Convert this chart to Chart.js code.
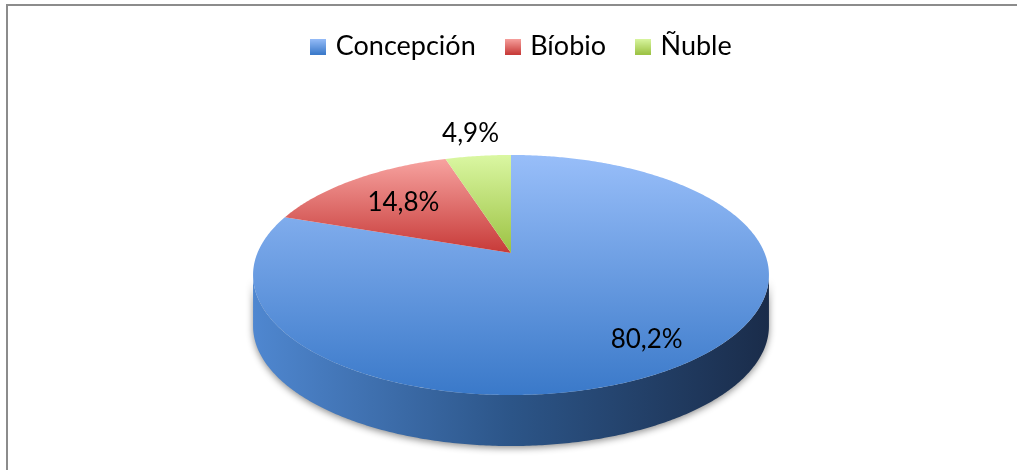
<!DOCTYPE html>
<html>
<head>
<meta charset="utf-8">
<script src="https://cdn.jsdelivr.net/npm/chart.js@4/dist/chart.umd.min.js"></script>
<style>
  html, body { margin: 0; padding: 0; background: #fff; }
  #wrap { position: relative; width: 1018px; height: 470px; }
  canvas { display: block; }
</style>
</head>
<body>
<div id="wrap"><canvas id="chart" width="1018" height="470"></canvas></div>
<script>
// Regional shares (%)
const categories = ['Concepción', 'Bíobio', 'Ñuble'];
const shares = [80.2, 14.8, 4.9];

// Slice colours: top face gradient (light -> dark) and side wall gradient (left -> right)
const topLight = ['#98bef9', '#f7a3a0', '#daf7a2'];
const topDark  = ['#3a79c9', '#c73a38', '#9cc243'];
const sideLeft = ['#4f87d0', '#b53331', '#8db23a'];
const sideMid  = ['#2c5588', '#8a2624', '#6c8a2a'];
const sideRight= ['#1a2c4a', '#5a1716', '#45591a'];
const legendColor = ['#6f9ee6', '#e46663', '#bddd76'];

// Radial position of each value label (fraction of the radius)
const labelRadius = [0.81, 0.66, 1.28];

// Perspective of the tilted pie
const STRETCH = 2.186;   // horizontal / vertical radius of the top face
const TILT = 0.1833;     // perspective foreshortening of the far half
const DEPTH = 51;        // thickness of the pie in pixels
const LEGEND_SHIFT = 12; // legend sits slightly right of the pie centre

const fmt = v => v.toFixed(1).replace('.', ',') + '%';

function project(cx, cy, r, theta, frac, drop) {
  const u = Math.cos(theta) * frac, v = Math.sin(theta) * frac;
  const w = 1 - TILT * v;
  return [cx + STRETCH * r * u / w, cy + r * v / w + (drop || 0)];
}

function legendSwatch(i) {
  const c = document.createElement('canvas');
  c.width = 16; c.height = 16;
  const g = c.getContext('2d');
  const grad = g.createLinearGradient(0, 0, 0, 16);
  grad.addColorStop(0, topLight[i]);
  grad.addColorStop(1, topDark[i]);
  g.fillStyle = grad;
  g.fillRect(0, 0, 16, 16);
  return c;
}
const swatches = categories.map((_, i) => legendSwatch(i));

const pie3d = {
  id: 'pie3d',
  afterLayout(chart) {
    const lg = chart.legend;
    if (lg) { lg.left += LEGEND_SHIFT; lg.right += LEGEND_SHIFT; }
  },
  beforeDatasetsDraw(chart) {
    const ctx = chart.ctx;
    const meta = chart.getDatasetMeta(0);
    const arcs = meta.data;
    if (!arcs.length) return false;
    const cx = arcs[0].x, cy = arcs[0].y, r = arcs[0].outerRadius;
    const thR = Math.asin(TILT), thL = Math.PI - Math.asin(TILT);
    const STEP = 0.01;

    const samples = (a, b, frac, drop) => {
      const pts = [];
      const n = Math.max(2, Math.ceil((b - a) / STEP));
      for (let k = 0; k <= n; k++) pts.push(project(cx, cy, r, a + (b - a) * k / n, frac, drop));
      return pts;
    };

    // side walls (front half only)
    ctx.save();
    arcs.forEach((arc, i) => {
      const a = Math.max(arc.startAngle, thR), b = Math.min(arc.endAngle, thL);
      if (b <= a) return;
      const top = samples(a, b, 1, 0);
      const bot = samples(a, b, 1, DEPTH).reverse();
      const xs = top.map(p => p[0]);
      const x0 = Math.min(...xs), x1 = Math.max(...xs);
      const grad = ctx.createLinearGradient(x0, 0, x1, 0);
      grad.addColorStop(0, sideLeft[i]);
      grad.addColorStop(0.5, sideMid[i]);
      grad.addColorStop(1, sideRight[i]);
      ctx.beginPath();
      top.concat(bot).forEach((p, k) => k ? ctx.lineTo(p[0], p[1]) : ctx.moveTo(p[0], p[1]));
      ctx.closePath();
      ctx.shadowColor = 'rgba(0,0,0,0.45)';
      ctx.shadowBlur = 7;
      ctx.shadowOffsetX = 0;
      ctx.shadowOffsetY = 2;
      ctx.fillStyle = grad;
      ctx.fill();
    });
    ctx.restore();

    // top faces
    arcs.forEach((arc, i) => {
      const pts = [[cx, cy]].concat(samples(arc.startAngle, arc.endAngle, 1, 0));
      const ys = pts.map(p => p[1]);
      const y0 = Math.min(...ys), y1 = Math.max(...ys);
      const grad = ctx.createLinearGradient(0, y0, 0, y1);
      grad.addColorStop(0, topLight[i]);
      grad.addColorStop(1, topDark[i]);
      ctx.beginPath();
      pts.forEach((p, k) => k ? ctx.lineTo(p[0], p[1]) : ctx.moveTo(p[0], p[1]));
      ctx.closePath();
      ctx.fillStyle = grad;
      ctx.fill();
    });

    // value labels
    ctx.save();
    ctx.font = '26px Lato';
    ctx.fillStyle = '#000';
    ctx.textAlign = 'center';
    ctx.textBaseline = 'middle';
    arcs.forEach((arc, i) => {
      const mid = (arc.startAngle + arc.endAngle) / 2;
      const p = project(cx, cy, r, mid, labelRadius[i], 0);
      ctx.fillText(fmt(shares[i]), p[0], p[1]);
    });
    ctx.restore();
    return false;
  }
};

// thin grey frame along the top and left edges
const frame = {
  id: 'frame',
  beforeDraw(chart) {
    const ctx = chart.ctx;
    ctx.save();
    ctx.strokeStyle = '#8c8c8c';
    ctx.lineWidth = 2;
    ctx.beginPath();
    ctx.moveTo(7, 472);
    ctx.lineTo(7, 5);
    ctx.lineTo(1017, 5);
    ctx.stroke();
    ctx.restore();
  }
};

new Chart(document.getElementById('chart'), {
  type: 'pie',
  data: {
    labels: categories,
    datasets: [{ data: shares, backgroundColor: legendColor, borderWidth: 0, radius: 116 }]
  },
  options: {
    responsive: false,
    animation: false,
    events: [],
    layout: { padding: { top: 0, bottom: 34, left: 4, right: 0 } },
    plugins: {
      tooltip: { enabled: false },
      legend: {
        position: 'top',
        labels: {
          font: { family: 'Lato', size: 27 },
          color: '#000',
          usePointStyle: true,
          pointStyle: swatches,
          boxWidth: 8,
          boxHeight: 16,
          padding: 33,
          generateLabels(chart) {
            return categories.map((c, i) => ({
              text: c, fillStyle: legendColor[i], strokeStyle: legendColor[i],
              lineWidth: 0, pointStyle: swatches[i], index: i, hidden: false
            }));
          }
        }
      }
    }
  },
  plugins: [pie3d, frame]
});
</script>
</body>
</html>
